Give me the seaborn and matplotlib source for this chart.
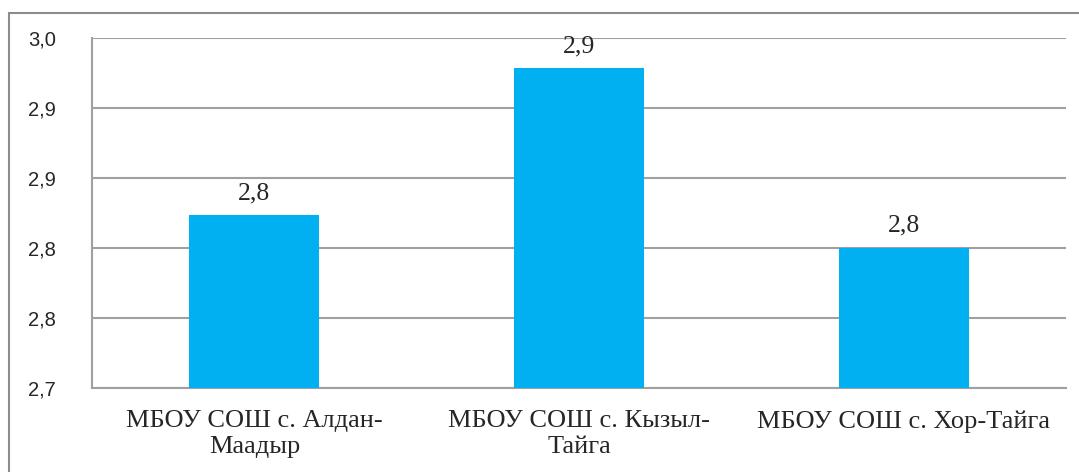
import seaborn as sns
import matplotlib.pyplot as plt
import numpy as np
import pandas as pd
from matplotlib.patches import Rectangle

# --- data ---
schools = ["МБОУ СОШ с. Алдан-\nМаадыр", "МБОУ СОШ с. Кызыл-\nТайга", "МБОУ СОШ с. Хор-Тайга"]
scores = [2.848, 2.974, 2.82]
bar_labels = ["2,8", "2,9", "2,8"]
y_ticks = [2.70, 2.76, 2.82, 2.88, 2.94, 3.00]

df = pd.DataFrame({"school": schools, "score": scores})

sns.set_style("white")
grid_col = "#a0a0a0"

fig = plt.figure(figsize=(10.79, 4.72), dpi=100)
ax = fig.add_axes([0.0853, 0.178, 0.988 - 0.0853, 0.9195 - 0.178])

sns.barplot(data=df, x="school", y="score", color="#00B0F0", saturation=1,
            width=0.4, linewidth=0, ax=ax, zorder=3)

ax.set_ylim(2.7, 3.0)
ax.set_xlim(-0.5, 2.5)
ax.set_yticks(y_ticks)
ax.set_yticklabels([f"{v:.1f}".replace(".", ",") for v in y_ticks],
                   fontfamily="Liberation Sans", fontsize=14.5)
ax.yaxis.grid(True, color=grid_col, linewidth=1.5, zorder=0)
ax.set_axisbelow(True)

# category labels centred, tick marks at the category boundaries
ax.set_xticks(range(len(schools)))
ax.set_xticklabels(schools, fontfamily="Liberation Serif", fontsize=19,
                   multialignment="center", linespacing=1.2)
ax.set_xticks([-0.5, 0.5, 1.5, 2.5], minor=True)
ax.tick_params(axis="x", which="major", length=0, pad=16)
ax.tick_params(axis="x", which="minor", length=5, width=1.2, color=grid_col, direction="out")
ax.tick_params(axis="y", length=5, width=1.2, color=grid_col, direction="out", pad=21)

ax.set_xlabel("")
ax.set_ylabel("")
for side in ["top", "right"]:
    ax.spines[side].set_visible(False)
for side in ["left", "bottom"]:
    ax.spines[side].set_color(grid_col)
    ax.spines[side].set_linewidth(1.5)

ax.bar_label(ax.containers[0], labels=bar_labels, padding=8,
             fontfamily="Liberation Serif", fontsize=18.5)

# outer chart frame, cut off by the picture edge on the right and bottom
fig.patches.append(Rectangle((9 / 1079, -0.2), 1.2, (472 - 13) / 472 + 0.2,
                             transform=fig.transFigure, fill=False,
                             edgecolor="#8c8c8c", linewidth=1.5))

plt.savefig("out.png", dpi=100)
